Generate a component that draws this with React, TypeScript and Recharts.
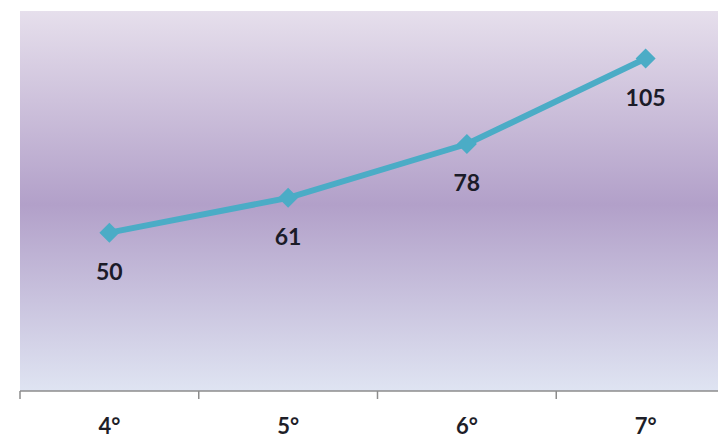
import { LineChart, Line, XAxis, YAxis, CartesianGrid, LabelList } from "recharts";

// grade levels and the counts plotted for each
const grades = ["4°", "5°", "6°", "7°"];
const counts = [50, 61, 78, 105];

const data = grades.map((grade, i) => ({ grade, count: counts[i] }));

const FONT = "Lato, 'Open Sans', 'DejaVu Sans', sans-serif";
const AXIS_GRAY = "#8c8c8c";

// category label plus tick marks on the band edges (Excel-style "between" ticks)
function GradeTick(props: any) {
  const { x, y, payload, index } = props;
  const half = payload.offset || 0;
  const last = index === grades.length - 1;
  return (
    <g>
      <line x1={x - half} x2={x - half} y1={y} y2={y + 8} stroke={AXIS_GRAY} strokeWidth={1.5} />
      {last && <line x1={x + half} x2={x + half} y1={y} y2={y + 8} stroke={AXIS_GRAY} strokeWidth={1.5} />}
      <text
        x={x}
        y={y + 34}
        textAnchor="middle"
        dominantBaseline="central"
        fill="#1e1e28"
        fontSize={22}
        fontWeight="bold"
        fontFamily={FONT}
      >
        {payload.value}
      </text>
    </g>
  );
}

export default function App() {
  return (
    <div style={{ position: "absolute", left: 0, top: 0, width: 718, height: 440, overflow: "hidden", background: "#fff" }}>
      <LineChart width={740} height={440} data={data} margin={{ top: 11, right: 5, left: 20, bottom: 9 }}>
        <defs>
          <linearGradient id="plotBg" x1="0" y1="0" x2="0" y2="1">
            <stop offset="0%" stopColor="#e6dfec" />
            <stop offset="51%" stopColor="#b2a0c9" />
            <stop offset="100%" stopColor="#dfe4f2" />
          </linearGradient>
        </defs>
        <CartesianGrid horizontal={false} vertical={false} fill="url(#plotBg)" stroke="none" />
        <XAxis
          dataKey="grade"
          scale="band"
          height={40}
          axisLine={{ stroke: AXIS_GRAY, strokeWidth: 1.5 }}
          tickLine={false}
          tickSize={0}
          tickMargin={0}
          tick={<GradeTick />}
          interval={0}
        />
        <YAxis hide domain={[0, 120]} />
        <Line
          dataKey="count"
          stroke="#4bacc6"
          strokeWidth={6}
          isAnimationActive={false}
          dot={(p: any) => (
            <path
              key={p.index}
              d={`M${p.cx},${p.cy - 10} L${p.cx + 10},${p.cy} L${p.cx},${p.cy + 10} L${p.cx - 10},${p.cy} Z`}
              fill="#4bacc6"
            />
          )}
        >
          <LabelList
            dataKey="count"
            position="bottom"
            offset={31}
            fill="#1b1b28"
            fontSize={23}
            fontWeight="bold"
            fontFamily={FONT}
          />
        </Line>
      </LineChart>
    </div>
  );
}
